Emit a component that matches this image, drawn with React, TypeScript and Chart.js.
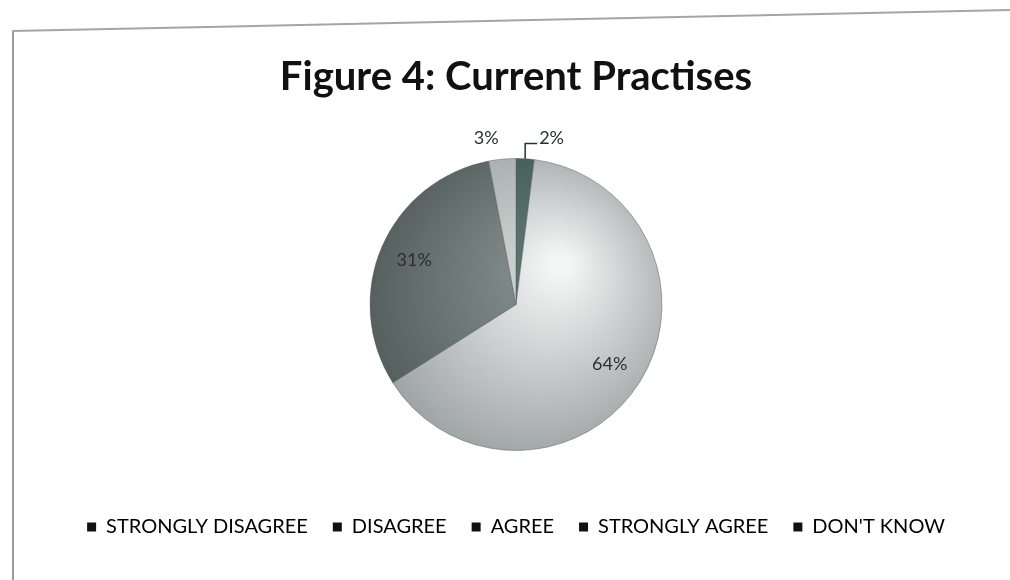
import React, { useEffect, useRef } from "react";
import { Chart, registerables } from "chart.js";

Chart.register(...registerables);

const categories = ["STRONGLY DISAGREE", "DISAGREE", "AGREE", "STRONGLY AGREE", "DON'T KNOW"];
const values = [2, 64, 31, 3, 0];
const innerColors = ["#5f7876", "#f4f5f5", "#8a9492", "#d2d8d6", "#a0a8a6"];
const outerColors = ["#3d5553", "#8f9595", "#4c5755", "#98a3a1", "#6e7876"];
const titleText = "Figure 4: Current Practises";

const labelPlugin = {
  id: "pctLabels",
  afterDatasetsDraw(chart: any) {
    const ctx = chart.ctx;
    const meta = chart.getDatasetMeta(0);
    const data = chart.data.datasets[0].data as number[];
    const total = data.reduce((a, b) => a + b, 0);
    ctx.save();
    ctx.font = "18px Lato, 'Open Sans', sans-serif";
    ctx.fillStyle = "#2a302f";
    ctx.textBaseline = "middle";
    meta.data.forEach((arc: any, i: number) => {
      const v = data[i];
      if (!v) return;
      const pct = Math.round((v / total) * 100) + "%";
      const { x, y, startAngle, endAngle, outerRadius } = arc.getProps(
        ["x", "y", "startAngle", "endAngle", "outerRadius"],
        true
      );
      const mid = (startAngle + endAngle) / 2;
      if (v / total >= 0.1) {
        const d = outerRadius * 0.76;
        ctx.textAlign = "center";
        ctx.fillText(pct, x + Math.cos(mid) * d, y + Math.sin(mid) * d);
      } else {
        const ax = x + Math.cos(mid) * outerRadius;
        const ay = y + Math.sin(mid) * outerRadius;
        const ly = y - outerRadius - 20;
        const rel = (((mid + Math.PI / 2) % (2 * Math.PI)) + 2 * Math.PI) % (2 * Math.PI);
        if (rel < Math.PI) {
          ctx.strokeStyle = "#2a302f";
          ctx.lineWidth = 1.5;
          ctx.beginPath();
          ctx.moveTo(ax, ay);
          ctx.lineTo(ax, ly + 5);
          ctx.lineTo(ax + 12, ly + 5);
          ctx.stroke();
          ctx.textAlign = "left";
          ctx.fillText(pct, ax + 14, ly);
        } else {
          ctx.textAlign = "center";
          ctx.fillText(pct, ax - 16, ly);
        }
      }
    });
    ctx.restore();
  },
};

function sliceFill(context: any) {
  const chart = context.chart;
  const i = context.dataIndex;
  const area = chart.chartArea;
  if (!area) return outerColors[i];
  const cx = (area.left + area.right) / 2;
  const cy = (area.top + area.bottom) / 2;
  const g = chart.ctx.createRadialGradient(cx + 45, cy - 40, 10, cx + 10, cy, 190);
  g.addColorStop(0, innerColors[i]);
  g.addColorStop(1, outerColors[i]);
  return g;
}

export default function App() {
  const ref = useRef<HTMLCanvasElement>(null);
  useEffect(() => {
    if (!ref.current) return;
    const chart = new Chart(ref.current, {
      type: "pie",
      data: {
        labels: categories,
        datasets: [
          {
            data: values,
            backgroundColor: sliceFill as any,
            borderColor: "#55605e",
            borderWidth: 0.5,
            radius: 146,
          },
        ],
      },
      options: {
        responsive: false,
        animation: false,
        layout: { padding: { left: 22, right: 0, top: 0, bottom: 33 } },
        plugins: {
          tooltip: { enabled: false },
          title: {
            display: true,
            text: titleText,
            color: "#111",
            font: { family: "Lato, 'Open Sans', sans-serif", size: 40, weight: "bold" },
            padding: { top: 53, bottom: 16 },
          },
          legend: {
            position: "bottom",
            labels: {
              color: "#111",
              font: { family: "Lato, 'Open Sans', sans-serif", size: 20 },
              boxWidth: 9,
              boxHeight: 9,
              padding: 25,
              generateLabels: (c: any) =>
                (c.data.labels as string[]).map((t: string, i: number) => ({
                  text: t,
                  fillStyle: "#111",
                  strokeStyle: "#111",
                  lineWidth: 0,
                  hidden: false,
                  index: i,
                })),
            },
          },
        },
      },
      plugins: [labelPlugin],
    });
    return () => chart.destroy();
  }, []);
  return (
    <div style={{ position: "absolute", left: 0, top: 0, width: 1010, height: 580, background: "#fff", overflow: "hidden" }}>
      <div style={{ position: "absolute", left: 12, top: 30, width: 2, height: 560, background: "#9a9a9a" }} />
      <div
        style={{
          position: "absolute",
          left: 12,
          top: 30,
          width: 1000,
          height: 2,
          background: "#a5a5a5",
          transformOrigin: "0 0",
          transform: "rotate(-1.2deg)",
        }}
      />
      <canvas ref={ref} width={1010} height={580} style={{ position: "absolute", left: 0, top: 0 }} />
    </div>
  );
}
